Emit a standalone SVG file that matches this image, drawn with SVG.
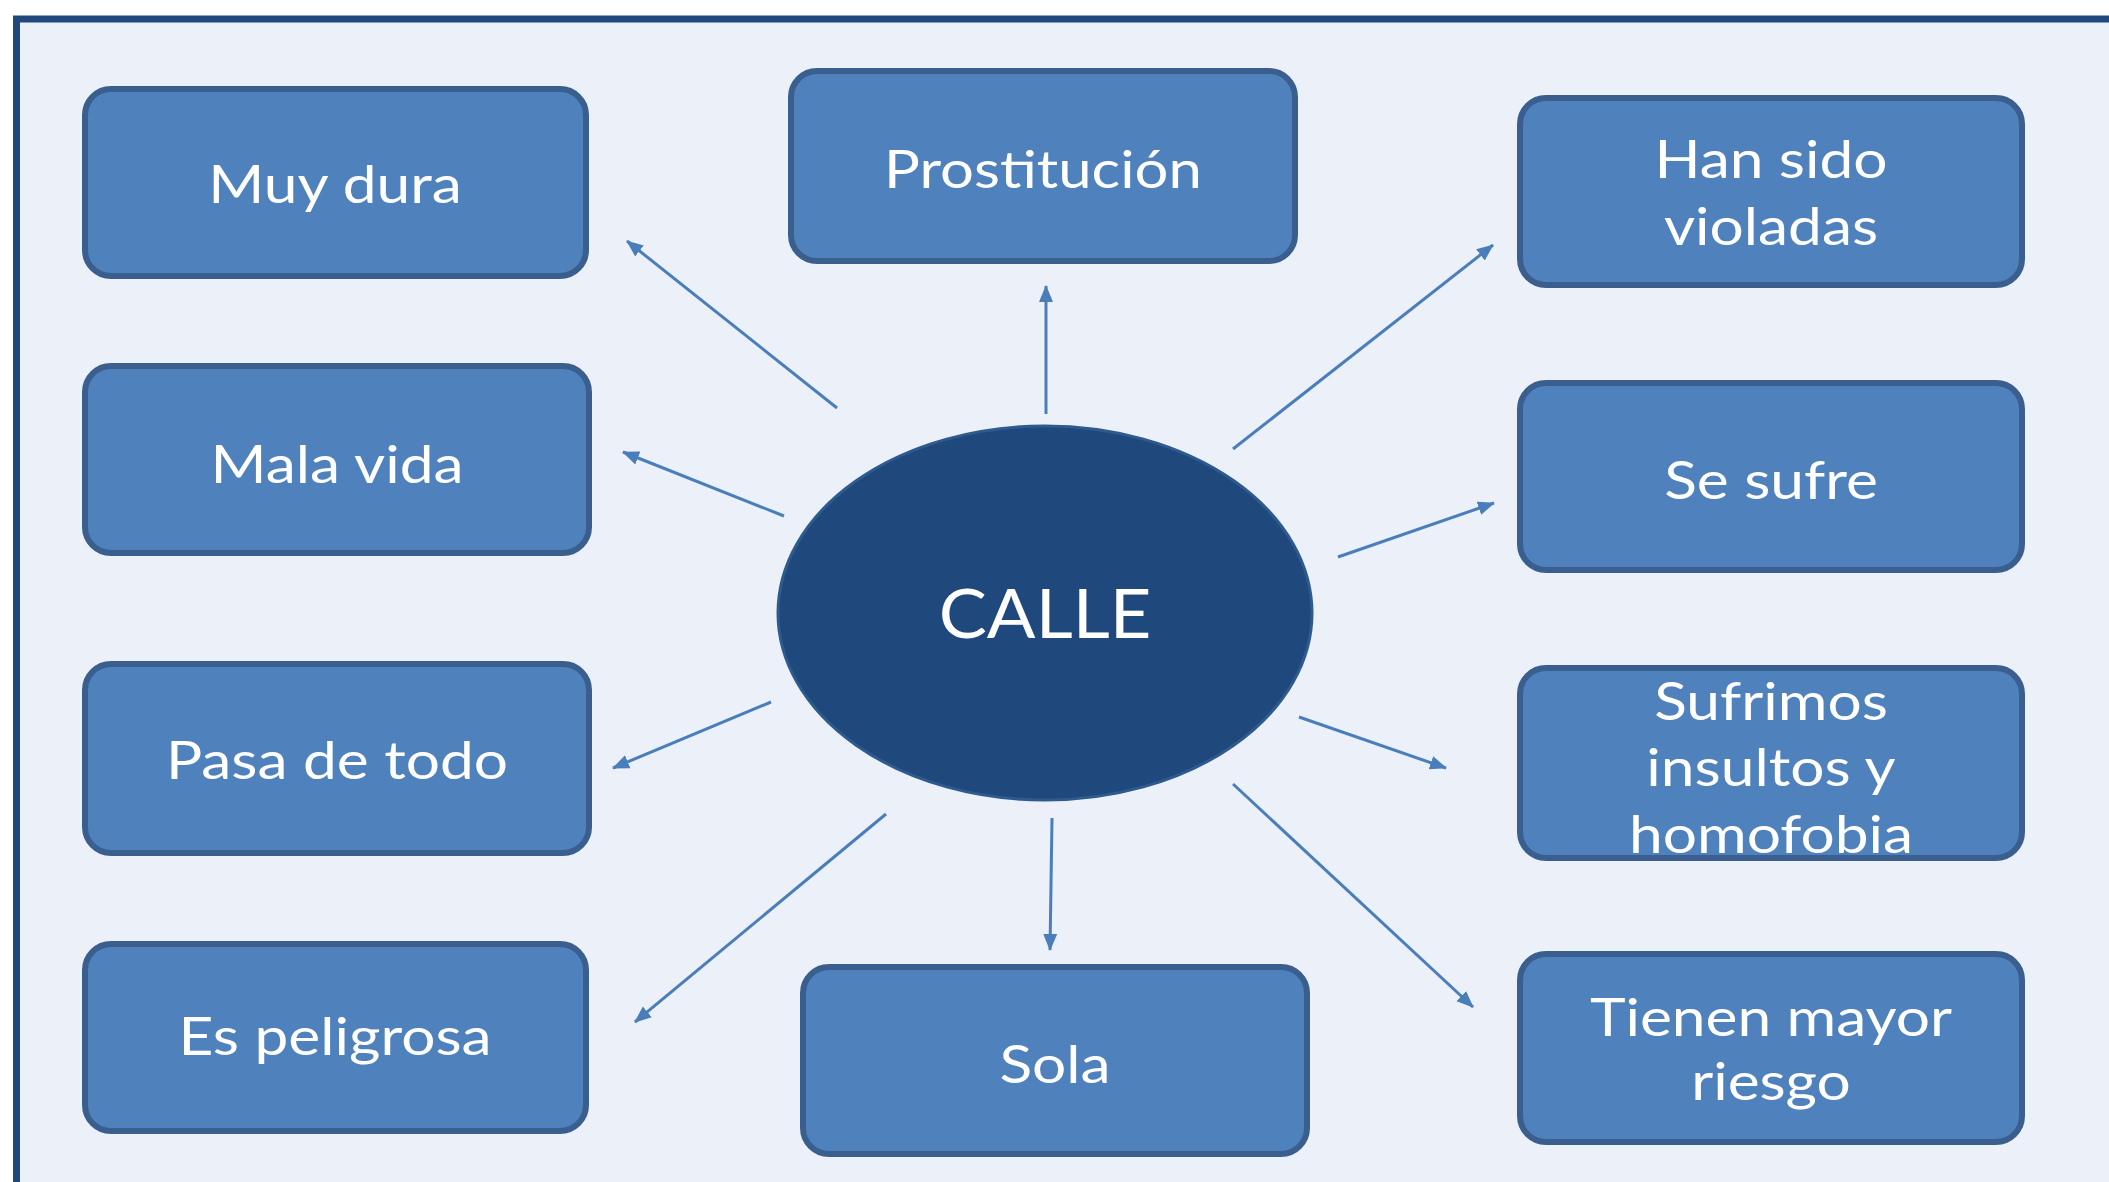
<svg xmlns="http://www.w3.org/2000/svg" width="2109" height="1182" viewBox="0 0 2109 1182">
<style>
.box{fill:#4F81BD;stroke:#3A5F8E;stroke-width:6}
.t{font-family:Lato,"Open Sans","Liberation Sans",sans-serif;fill:#FFFFFF;font-size:53px;text-anchor:middle}
.c{font-family:Lato,"Open Sans","Liberation Sans",sans-serif;fill:#FFFFFF;font-size:68px;text-anchor:middle}
.a{stroke:#4A7EBB;stroke-width:3;fill:none;marker-end:url(#ah)}
</style>
<defs>
<marker id="ah" markerUnits="userSpaceOnUse" markerWidth="18" markerHeight="16" refX="16" refY="8" orient="auto">
<path d="M0,1 L17,8 L0,15 Z" fill="#4A7EBB"/>
</marker>
</defs>
<rect x="0" y="0" width="2109" height="1182" fill="#FFFFFF"/>
<rect x="16.5" y="19" width="2200" height="1300" fill="#ECF1F9" stroke="#1F497D" stroke-width="7"/>
<g id="connectors">
<line class="a" x1="837" y1="408" x2="627" y2="241"/>
<line class="a" x1="1046" y1="414" x2="1046" y2="286"/>
<line class="a" x1="1233" y1="449" x2="1493" y2="245"/>
<line class="a" x1="784" y1="516" x2="623" y2="452"/>
<line class="a" x1="1338" y1="557" x2="1494" y2="503"/>
<line class="a" x1="771" y1="702" x2="613" y2="768"/>
<line class="a" x1="1299" y1="717" x2="1446" y2="768"/>
<line class="a" x1="886" y1="814" x2="635" y2="1022"/>
<line class="a" x1="1052" y1="818" x2="1050" y2="950"/>
<line class="a" x1="1233" y1="784" x2="1473" y2="1007"/>
</g>
<g id="calle">
<ellipse cx="1045" cy="613" rx="267" ry="187" fill="#1F497D" stroke="#2E5A8E" stroke-width="3"/>
<text class="c" transform="translate(1045,638) scale(1.06,1)">CALLE</text>
</g>
<g id="muy-dura">
<rect class="box" x="85" y="89" width="501" height="187" rx="26"/>
<text class="t" transform="translate(335,203) scale(1.14,1)">Muy dura</text>
</g>
<g id="prostitucion">
<rect class="box" x="791" y="71" width="504" height="190" rx="26"/>
<text class="t" transform="translate(1043,188) scale(1.13,1)">Prostitución</text>
</g>
<g id="han-sido-violadas">
<rect class="box" x="1520" y="98" width="502" height="187" rx="26"/>
<text class="t" transform="translate(1771,178) scale(1.14,1)">Han sido</text>
<text class="t" transform="translate(1771,245) scale(1.14,1)">violadas</text>
</g>
<g id="mala-vida">
<rect class="box" x="85" y="366" width="504" height="187" rx="26"/>
<text class="t" transform="translate(337,483) scale(1.14,1)">Mala vida</text>
</g>
<g id="se-sufre">
<rect class="box" x="1520" y="383" width="502" height="187" rx="26"/>
<text class="t" transform="translate(1771,499) scale(1.14,1)">Se sufre</text>
</g>
<g id="pasa-de-todo">
<rect class="box" x="85" y="664" width="504" height="189" rx="26"/>
<text class="t" transform="translate(337,779) scale(1.14,1)">Pasa de todo</text>
</g>
<g id="sufrimos">
<rect class="box" x="1520" y="668" width="502" height="190" rx="26"/>
<text class="t" transform="translate(1771,720) scale(1.14,1)">Sufrimos</text>
<text class="t" transform="translate(1771,786) scale(1.14,1)">insultos y</text>
<text class="t" transform="translate(1771,853) scale(1.14,1)">homofobia</text>
</g>
<g id="es-peligrosa">
<rect class="box" x="85" y="944" width="501" height="187" rx="26"/>
<text class="t" transform="translate(335,1055) scale(1.14,1)">Es peligrosa</text>
</g>
<g id="sola">
<rect class="box" x="803" y="967" width="504" height="187" rx="26"/>
<text class="t" transform="translate(1055,1083) scale(1.14,1)">Sola</text>
</g>
<g id="tienen-mayor-riesgo">
<rect class="box" x="1520" y="954" width="502" height="188" rx="26"/>
<text class="t" transform="translate(1771,1036) scale(1.14,1)">Tienen mayor</text>
<text class="t" transform="translate(1771,1100) scale(1.14,1)">riesgo</text>
</g>
</svg>
